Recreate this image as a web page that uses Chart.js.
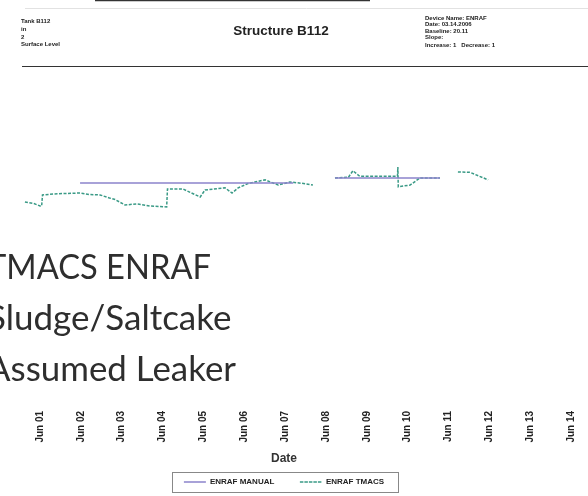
<!DOCTYPE html>
<html>
<head>
<meta charset="utf-8">
<script src="https://cdn.jsdelivr.net/npm/chart.js@4.4.1/dist/chart.umd.min.js"></script>
<style>
  html, body { margin: 0; padding: 0; background: #fff; }
  #wrap { position: relative; width: 588px; height: 496px; }
</style>
</head>
<body>
<div id="wrap"><canvas id="myChart" width="588" height="496"></canvas></div>
<script>
// x axis: days after Jun 01
const tickDays = [0, 1, 2, 3, 4, 5, 6, 7, 8, 9, 10, 11, 12, 13];
const tickLabels = ['Jun 01', 'Jun 02', 'Jun 03', 'Jun 04', 'Jun 05', 'Jun 06', 'Jun 07',
                    'Jun 08', 'Jun 09', 'Jun 10', 'Jun 11', 'Jun 12', 'Jun 13', 'Jun 14'];

// ENRAF MANUAL readings (level, inches)
const manualDays   = [0.98, 6.2, 6.21, 7.22, 9.79];
const manualLevels = [20.294, 20.294, null, 20.325, 20.325];

// ENRAF TMACS readings (level, inches)
const tmacsDays = [-0.37, -0.15, 0.0, 0.04, 0.06, 0.35, 0.61, 0.98, 1.2, 1.47, 1.7, 1.84, 2.08, 2.37,
                   2.69, 3.1, 3.12, 3.5, 3.92, 4.04, 4.53, 4.7, 4.85, 5.09, 5.26, 5.51, 5.83, 6.12,
                   6.4, 6.68, 6.95, 7.22, 7.55, 7.66, 7.83, 8.57, 8.75, 8.76, 8.77, 9.06, 9.3, 9.79,
                   10.0, 10.23, 10.53, 10.97];
const tmacsLevels = [20.175, 20.165, 20.150, 20.150, 20.219, 20.225, 20.228, 20.231, 20.222, 20.219,
                     20.200, 20.190, 20.156, 20.163, 20.150, 20.144, 20.256, 20.256, 20.206, 20.250,
                     20.263, 20.231, 20.263, 20.290, 20.300, 20.313, 20.281, 20.300, 20.292, 20.281,
                     null, 20.325, 20.330, 20.370, 20.335, 20.335, 20.335, 20.394, 20.270, 20.281,
                     20.325, 20.325, null, 20.363, 20.360, 20.313];

const headerLeft  = ['Tank B112', 'in', '2', 'Surface Level'];
const headerRight = ['Device Name: ENRAF', 'Date: 03.14.2006', 'Baseline: 20.11', 'Slope:', 'Increase: 1   Decrease: 1'];
const overlayLines = ['TMACS ENRAF', 'Sludge/Saltcake', 'Assumed Leaker'];

const toPoints = (xs, ys) => xs.map((x, i) => ({ x: x, y: ys[i] }));

// header, overlay text and legend frame
const pagePlugin = {
  id: 'page',
  afterDraw(chart) {
    const ctx = chart.ctx;
    ctx.save();
    // piece of frame at top of the scan
    ctx.strokeStyle = '#333';
    ctx.lineWidth = 1.5;
    ctx.beginPath();
    ctx.moveTo(95, 0.5);
    ctx.lineTo(370, 0.5);
    ctx.stroke();
    ctx.strokeStyle = '#e2e2e2';
    ctx.lineWidth = 1;
    ctx.beginPath();
    ctx.moveTo(25, 8.5);
    ctx.lineTo(588, 8.5);
    ctx.stroke();

    ctx.fillStyle = '#222';
    ctx.textBaseline = 'alphabetic';
    ctx.font = 'bold 6px "Liberation Sans"';
    headerLeft.forEach((t, i) => ctx.fillText(t, 21, 23 + i * 7.8));
    headerRight.forEach((t, i) => ctx.fillText(t, 425, 20 + i * 6.3 + (i === 4 ? 1.5 : 0)));

    ctx.font = 'bold 13.5px "Liberation Sans"';
    ctx.textAlign = 'center';
    ctx.fillText('Structure B112', 281, 35);

    ctx.strokeStyle = '#333';
    ctx.lineWidth = 1;
    ctx.beginPath();
    ctx.moveTo(22, 66.5);
    ctx.lineTo(588, 66.5);
    ctx.stroke();

    // big overlay text, clipped at the left edge
    ctx.textAlign = 'left';
    ctx.fillStyle = '#2e2e2e';
    ctx.font = '35px Lato';
    const widths = [224, 245, 249];
    overlayLines.forEach((t, i) => {
      const k = Math.min(1, widths[i] / ctx.measureText(t).width);
      ctx.save();
      ctx.translate(-13, 279 + i * 51);
      ctx.scale(k, 1);
      ctx.fillText(t, 0, 0);
      ctx.restore();
    });

    // box round the legend
    const boxes = chart.legend.legendHitBoxes;
    if (boxes.length) {
      const l = Math.min(...boxes.map(b => b.left)) - 12;
      const r = Math.max(...boxes.map(b => b.left + b.width)) + 14;
      const t = boxes[0].top - 6;
      const bt = boxes[0].top + boxes[0].height + 6;
      ctx.strokeStyle = '#888';
      ctx.lineWidth = 1;
      ctx.strokeRect(Math.round(l) + 0.5, Math.round(t) + 0.5, Math.round(r - l), Math.round(bt - t));
    }
    ctx.restore();
  }
};

const ctx = document.getElementById('myChart').getContext('2d');

const data = {
  datasets: [{
    label: 'ENRAF MANUAL',
    data: toPoints(manualDays, manualLevels),
    borderColor: '#8c84cc',
    backgroundColor: '#8c84cc',
    borderWidth: 1.5,
    pointRadius: 0,
    spanGaps: false
  }, {
    label: 'ENRAF TMACS',
    data: toPoints(tmacsDays, tmacsLevels),
    borderColor: '#3a9a86',
    backgroundColor: '#3a9a86',
    borderWidth: 1.5,
    borderDash: [3, 1.5],
    pointRadius: 0,
    spanGaps: false
  }]
};

const config = {
  type: 'line',
  data: data,
  options: {
    responsive: false,
    animation: false,
    layout: { padding: { top: 70, left: 0, right: 20, bottom: 0 } },
    plugins: {
      legend: {
        display: true,
        position: 'bottom',
        labels: {
          boxWidth: 22,
          boxHeight: 0,
          padding: 10,
          color: '#222',
          font: { family: 'Liberation Sans', size: 8, weight: 'bold' },
          generateLabels: chart => {
            const items = Chart.defaults.plugins.legend.labels.generateLabels(chart);
            // wider gap after the first item
            items[0].text = items[0].text + '       ';
            return items;
          }
        }
      },
      tooltip: { enabled: false }
    },
    scales: {
      x: {
        type: 'linear',
        min: -0.98,
        max: 12.925,
        afterBuildTicks: s => { s.ticks = tickDays.map(v => ({ value: v })); },
        grid: { display: false, drawTicks: false },
        border: { display: false },
        ticks: {
          minRotation: 90,
          maxRotation: 90,
          autoSkip: false,
          padding: 3,
          color: '#222',
          font: { family: 'Liberation Sans', size: 10, weight: 'bold' },
          callback: v => tickLabels[tickDays.indexOf(v)]
        },
        title: {
          display: true,
          text: 'Date',
          color: '#333',
          padding: { top: 6, bottom: 2 },
          font: { family: 'Liberation Sans', size: 12, weight: 'bold' }
        }
      },
      y: {
        display: false,
        min: 18.8875,
        max: 21.0
      }
    }
  },
  plugins: [pagePlugin]
};

const myLineChart = new Chart(ctx, config);
</script>
</body>
</html>
